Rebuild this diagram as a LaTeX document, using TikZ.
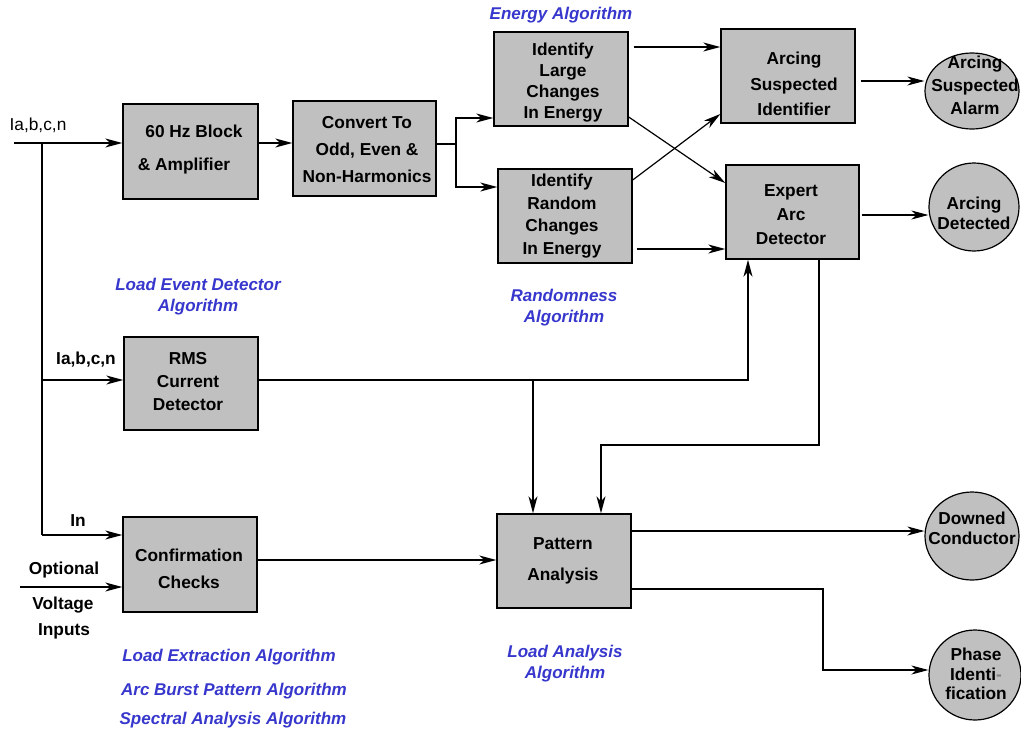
\documentclass[tikz,border=0pt]{standalone}
\usepackage{fontspec}
\setmainfont{Liberation Sans}
\usetikzlibrary{arrows.meta,shapes.geometric}
\definecolor{boxgray}{RGB}{192,192,192}
\definecolor{algblue}{RGB}{55,55,205}
\tikzset{
 box/.style={draw, fill=boxgray, line width=1.4pt, inner sep=0pt},
 circ/.style={ellipse, draw, fill=boxgray, line width=1.2pt, inner sep=0pt},
 btxt/.style={align=center, inner sep=0pt, font=\bfseries\fontsize{17.3}{#1}\selectfont},
 rtxt/.style={align=center, inner sep=0pt, font=\fontsize{17.3}{21}\selectfont},
 alg/.style={align=center, inner sep=0pt, text=algblue, font=\bfseries\itshape\fontsize{17}{21}\selectfont},
 arr/.style={-{Stealth[length=17pt,width=9pt,inset=5pt]}, line width=1.2pt},
 con/.style={line width=1.2pt},
}
\begin{document}
\begin{tikzpicture}[x=1pt,y=-1pt]
\fill[white] (0,0) rectangle (1021,729);
\useasboundingbox (0,0) rectangle (1021,729);

% boxes
\node[box, minimum width=135, minimum height=95] (b1) at (190.5,151.5) {};
\node[box, minimum width=143, minimum height=95] (b2) at (364.5,148.5) {};
\node[box, minimum width=134, minimum height=94] (b3) at (561,79) {};
\node[box, minimum width=134, minimum height=94] (b4) at (565,216) {};
\node[box, minimum width=134, minimum height=94] (b5) at (788,76) {};
\node[box, minimum width=133, minimum height=94] (b6) at (792.5,212) {};
\node[box, minimum width=134, minimum height=93] (b7) at (191,383.5) {};
\node[box, minimum width=134, minimum height=95] (b8) at (190,564.5) {};
\node[box, minimum width=134, minimum height=94] (b9) at (564,561) {};

% ellipses
\node[circ, minimum width=94, minimum height=76] (c1) at (972,91) {};
\node[circ, minimum width=90, minimum height=88] (c2) at (974,207) {};
\node[circ, minimum width=94, minimum height=88] (c3) at (972,536) {};
\node[circ, minimum width=92, minimum height=90] (c4) at (975,675) {};

% box texts
\node[btxt=33] (t1) at (189,149.5) {\kern10pt 60 Hz Block\\\& Amplifier\kern10pt};
\node[btxt=27] (t2) at (367,149.5) {Convert To\\Odd, Even \&\\Non-Harmonics};
\node[btxt=21] (t3) at (563,83) {Identify\\Large\\Changes\\In Energy};
\node[btxt=22.7] (t4) at (562,216) {Identify\\Random\\Changes\\In Energy};
\node[btxt=25.5] (t5) at (794,84) {Arcing\\Suspected\\Identifier};
\node[btxt=24] (t6) at (791,215) {Expert\\Arc\\Detector};
\node[btxt=23] (t7) at (188,381.5) {RMS\\Current\\Detector};
\node[btxt=27] (t8) at (189,568.5) {Confirmation\\Checks};
\node[btxt=31] (t9) at (563,560.5) {Pattern\\Analysis};

% ellipse texts
\node[btxt=23] (ct1) at (975,85.5) {Arcing\\Suspected\\Alarm};
\node[btxt=19.5] (ct2) at (974,213.5) {Arcing\\Detected};
\node[btxt=20] (ct3) at (972,528) {Downed\\Conductor};
\node[btxt=19.5] (ct4) at (976,674) {Phase\\Identi{\color{gray}-}\\fication};

% input labels
\node[rtxt] (l1) at (38,125) {Ia,b,c,n};
\node[btxt=21] (l2) at (86,360) {Ia,b,c,n};
\node[btxt=21] (l3) at (78,521) {In};
\node[btxt=21] (l4a) at (64,570) {Optional};
\node[btxt=21] (l4b) at (63,605) {Voltage};
\node[btxt=21] (l4c) at (64,631) {Inputs};

% algorithm labels
\node[alg] (a1) at (561,15) {Energy Algorithm};
\node[alg] (a2) at (198,296.5) {Load Event Detector\\Algorithm};
\node[alg] (a3) at (564,307.5) {Randomness\\Algorithm};
\node[alg] (a4) at (565,663.5) {Load Analysis\\Algorithm};
\node[alg] (a5) at (229,657) {Load Extraction Algorithm};
\node[alg] (a6) at (234,691) {Arc Burst Pattern Algorithm};
\node[alg] (a7) at (233,720) {Spectral Analysis Algorithm};

% coordinates
\coordinate (in1) at (14,143);
\coordinate (j1) at (42,143);
\coordinate (jrms) at (42,380);
\coordinate (jin) at (42,535);
\coordinate (opt) at (20,587);
\coordinate (sp) at (456,144);
\coordinate (rc) at (748,380);
\coordinate (rb) at (533,380);
\coordinate (e1) at (819,445);
\coordinate (e2) at (601,445);
\coordinate (p1) at (823,589);
\coordinate (p2) at (823,670);

% connectors
\draw[arr] (in1) -- (in1 -| b1.west);
\draw[con] (j1) -- (jin);
\draw[arr] (jrms) -- (jrms -| b7.west);
\draw[arr] (jin) -- (jin -| b8.west);
\draw[arr] (opt) -- (opt -| b8.west);
\draw[arr] (b1.east |- in1) -- (b2.west |- in1);
\draw[con] (b2.east |- sp) -- (sp);
\draw[arr] (sp) |- (b3.west |- 0,118);
\draw[arr] (sp) |- (b4.west |- 0,187);
\draw[arr, shorten <=5pt] (b3.east |- 0,47) -- (b5.west |- 0,47);
\draw[arr] (b3.east |- 0,117) -- (b6.west |- 0,183);
\draw[arr] (b4.east |- 0,180) -- (b5.west |- 0,114);
\draw[arr, shorten <=4pt] (b4.east |- 0,249) -- (b6.west |- 0,249);
\draw[arr, shorten <=5pt] (b5.east |- 0,81) -- (c1.west |- 0,81);
\draw[arr, shorten <=2pt] (b6.east |- 0,215) -- (c2.west |- 0,215);
\draw[arr] (b7.east |- rc) -| (rc |- b6.south);
\draw[arr] (rb) -- (rb |- b9.north);
\draw[arr] (e1 |- b6.south) -- (e1) -- (e2) -- (e2 |- b9.north);
\draw[arr] (b8.east |- 0,560) -- (b9.west |- 0,560);
\draw[arr] (b9.east |- 0,531) -- (c3.west |- 0,531);
\draw[arr] (b9.east |- p1) -- (p1) -- (p2) -- (c4.west |- p2);
\end{tikzpicture}
\end{document}
